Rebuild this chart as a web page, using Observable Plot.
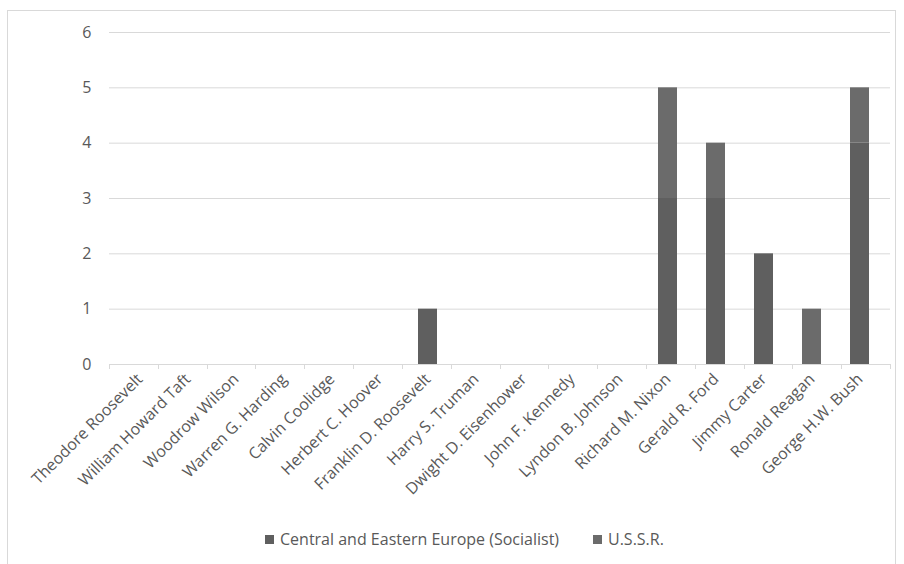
<!DOCTYPE html>
<html>
<head>
<meta charset="utf-8">
<script src="https://cdn.jsdelivr.net/npm/d3@7"></script>
<script src="https://cdn.jsdelivr.net/npm/@observablehq/plot@0.6"></script>
<style>
  html, body { margin: 0; padding: 0; background: #fff; }
  body { width: 904px; height: 564px; position: relative; overflow: hidden; font-family: "Open Sans", sans-serif; }
  #frame { position: absolute; left: 7px; top: 10px; width: 889px; height: 560px; border: 1px solid #d9d9d9; box-sizing: border-box; }
  #chart { position: absolute; left: 0; top: 0; }
  #legend { position: absolute; top: 528px; left: 0; width: 904px; font-size: 16px; color: #595959; }
  .item { position: absolute; top: 0; white-space: nowrap; line-height: 22px; }
  .sw { display: inline-block; width: 9px; height: 9px; margin-right: 6px; vertical-align: 1px; }
</style>
</head>
<body>
<div id="frame"></div>
<div id="chart"></div>
<div id="legend"></div>
<script>
// Presidents in chronological order
const presidents = [
  "Theodore Roosevelt", "William Howard Taft", "Woodrow Wilson", "Warren G. Harding",
  "Calvin Coolidge", "Herbert C. Hoover", "Franklin D. Roosevelt", "Harry S. Truman",
  "Dwight D. Eisenhower", "John F. Kennedy", "Lyndon B. Johnson", "Richard M. Nixon",
  "Gerald R. Ford", "Jimmy Carter", "Ronald Reagan", "George H.W. Bush"
];
const seriesNames = ["Central and Eastern Europe (Socialist)", "U.S.S.R."];
const ceeValues  = [0, 0, 0, 0, 0, 0, 1, 0, 0, 0, 0, 3, 3, 2, 0, 4];
const ussrValues = [0, 0, 0, 0, 0, 0, 0, 0, 0, 0, 0, 2, 1, 0, 1, 1];
const seriesColors = ["#5f5f5f", "#6b6b6b"];
const yTicks = [0, 1, 2, 3, 4, 5, 6];

// Long table, first series stacked at the bottom
const rows = [];
[ceeValues, ussrValues].forEach((vals, s) => {
  vals.forEach((v, i) => rows.push({president: presidents[i], series: seriesNames[s], value: v}));
});

const textColor = "#595959";
const gridColor = "#d9d9d9";

// Small ticks at the category boundaries below the baseline
function boundaryTicks(index, scales, values, dim) {
  const n = presidents.length;
  const x0 = dim.marginLeft;
  const step = (dim.width - dim.marginLeft - dim.marginRight) / n;
  const y0 = scales.y(0);
  const g = d3.create("svg:g").attr("stroke", gridColor).attr("stroke-width", 1);
  for (let i = 0; i <= n; i++) {
    const x = Math.round(x0 + i * step) + 0.5;
    g.append("line").attr("x1", x).attr("x2", x).attr("y1", y0).attr("y2", y0 + 5);
  }
  return g.node();
}

const chart = Plot.plot({
  width: 904,
  height: 500,
  marginTop: 32,
  marginLeft: 109,
  marginRight: 14,
  marginBottom: 136,
  style: {fontFamily: "Open Sans, sans-serif", fontSize: "16px", color: textColor, background: "transparent"},
  x: {domain: presidents, paddingInner: 0.6, paddingOuter: 0.3, label: null},
  y: {domain: [0, 6], label: null},
  color: {domain: seriesNames, range: seriesColors},
  marks: [
    Plot.ruleY(yTicks, {stroke: gridColor, strokeWidth: 1}),
    Plot.barY(rows.filter(d => d.value > 0), {
      x: "president", y: "value", fill: "series"
    }),
    boundaryTicks,
    Plot.axisY(yTicks, {tickSize: 0, tickPadding: 18, tickFormat: d3.format("d"), fontSize: 16, fill: textColor, label: null}),
    Plot.axisX({tickSize: 0, tickRotate: -45, tickPadding: 12, fontSize: 16, fill: textColor, label: null})
  ]
});
document.getElementById("chart").appendChild(chart);

// Legend below the chart
const legend = document.getElementById("legend");
const lefts = [265, 593];
seriesNames.forEach((name, i) => {
  const item = document.createElement("div");
  item.className = "item";
  item.style.left = lefts[i] + "px";
  const sw = document.createElement("span");
  sw.className = "sw";
  sw.style.background = seriesColors[i];
  item.appendChild(sw);
  item.appendChild(document.createTextNode(name));
  legend.appendChild(item);
});
</script>
</body>
</html>
